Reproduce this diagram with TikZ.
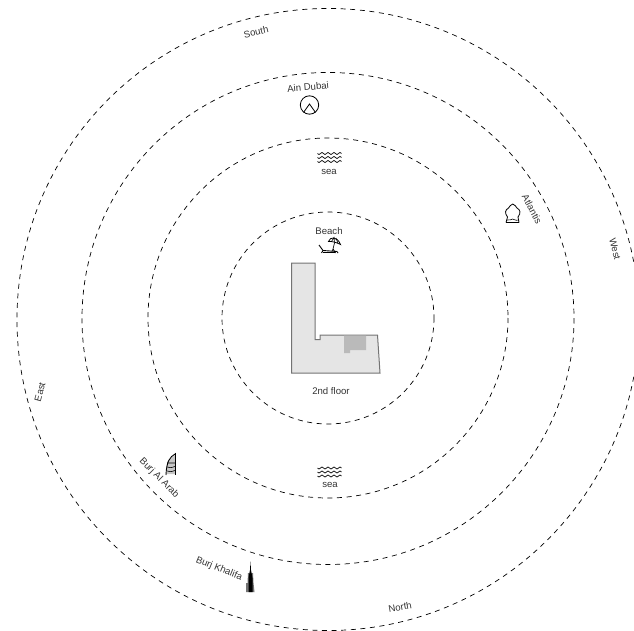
\documentclass[tikz,border=0pt]{standalone}
\usepackage{fontspec}
\setmainfont{Liberation Sans}
\definecolor{txt}{gray}{0.2}
\tikzset{
  ring/.style={draw=black,dash pattern=on 5pt off 4.6pt,line width=0.7pt},
  lab/.style={font=\fontsize{9.6}{11}\selectfont,text=txt,inner sep=0pt},
  ico/.style={draw=black,line width=0.8pt,fill=none},
  wave/.style={draw=black,line width=0.7pt},
}
\begin{document}
\begin{tikzpicture}[x=1pt,y=-1pt]
\useasboundingbox (0,0) rectangle (634,631);
\draw[ring] (328,318) circle [radius=106];
\draw[ring] (328,318) circle [radius=180];
\draw[ring] (328,318.5) circle [radius=246];
\draw[ring] (328,319.5) circle [radius=311];
% building
\draw[fill=black!10,draw=black!55,line width=1pt] (291.5,263) -- (315,263) -- (315,339.5) -- (320,339.5) -- (320,335) -- (377.5,335) -- (380,373) -- (291.5,373) -- cycle;
\fill[black!27] (344,335.5) -- (366,335.5) -- (366,350) -- (350,350) -- (350,353) -- (344,353) -- cycle;
% labels
\node[lab,rotate=13] (south) at (256,32) {South};
\node[lab,rotate=5] (ain) at (308,87) {Ain Dubai};
\node[lab] (sea1) at (329,172) {sea};
\node[lab] (beach) at (329,231) {Beach};
\node[lab,rotate=-62] (atl) at (532,209) {Atlantis};
\node[lab,rotate=-75] (west) at (615,249) {West};
\node[lab] (floor) at (331,391) {2nd floor};
\node[lab,rotate=75] (east) at (40,392) {East};
\node[lab] (sea2) at (330,485) {sea};
\node[lab,rotate=-45] (arab) at (159,478) {Burj Al Arab};
\node[lab,rotate=-22] (khal) at (219,569) {Burj Khalifa};
\node[lab,rotate=10] (north) at (400,607) {North};
% ain dubai icon
\draw[ico] (309.5,105) circle [radius=9.2];
\draw[ico] (303.5,112.5) -- (309.5,104) -- (315.5,112.5);
% waves
\foreach \yy in {153.5,157.5,161.5,468,472,476}{
  \draw[wave] plot[domain=0:24,samples=49,smooth] ({317.5+\x},{\yy+0.9*sin(\x*60)});
}
% beach icon
\draw[line width=0.9pt] (319,245) -- (323,250.5) -- (337,251.5);
\draw[line width=0.9pt] (323,250.5) -- (321.5,253) (323,252.5) -- (335,252.5) (333,249) -- (335.5,253) (337,251.5) -- (338,253);
\draw[line width=0.7pt] (334.5,243) -- (332.5,251);
\draw[line width=0.8pt,fill=white] (328.5,241.5) .. controls (330,236.5) and (337,236) .. (340.5,244.5) .. controls (337,242.5) and (331,241) .. cycle;
\draw[line width=0.6pt] (331.5,241.5) -- (334,237.5) -- (334.5,242.5) (336,238) -- (338,243.5);
% atlantis icon
\draw[ico] (506,222.5) -- (519,222.5) (506,222.5) -- (507.5,217) .. controls (504.5,213) and (505,210) .. (508.5,208) .. controls (509.5,206) and (511,205) .. (512.7,204) .. controls (514.5,205) and (516,206) .. (517,208) .. controls (520.5,210) and (521,213) .. (518,217) -- (519,222.5);
\draw[line width=0.6pt] (507,220) .. controls (510,221) and (511,219) .. (512.7,219) .. controls (514,219) and (515,221) .. (518.5,220);
% burj al arab icon
\fill[black!22] (167,462) -- (175,455) -- (175,474) -- (167,474) -- cycle;
\draw[line width=0.9pt] (175,452.5) -- (175,475);
\draw[line width=0.9pt] (175,454) .. controls (170,457) and (166.5,461) .. (166,475);
\draw[line width=0.6pt] (167,463) -- (175,463) (167,467) .. controls (170,468) and (172,468) .. (175,466.5) (167,471) .. controls (170,472) and (172,472) .. (175,470.5);
% burj khalifa icon
\fill[black!55] (246,592) -- (246,583) -- (247.5,583) -- (248,573) -- (253,573) -- (253.5,583) -- (254.5,592) -- cycle;
\fill[black] (248.5,592) -- (248.5,578) -- (250,570) -- (250.5,561.5) -- (251,570) -- (252.5,578) -- (252.5,592) -- cycle;
\end{tikzpicture}
\end{document}
